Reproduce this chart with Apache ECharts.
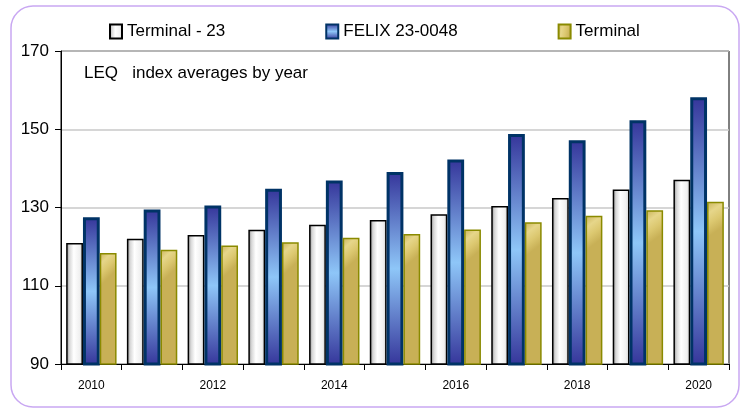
<!DOCTYPE html>
<html>
<head>
<meta charset="utf-8">
<script src="https://cdn.jsdelivr.net/npm/echarts@6/dist/echarts.min.js"></script>
<style>
  html, body { margin: 0; padding: 0; background: #fff; }
  #chart { width: 742px; height: 409px; }
</style>
</head>
<body>
<div id="chart"></div>
<script>
// years on the x axis
var years = ['2010', '2011', '2012', '2013', '2014', '2015', '2016', '2017', '2018', '2019', '2020'];
// LEQ index averages
var terminal23 = [120.9, 122.0, 123.0, 124.3, 125.6, 126.8, 128.3, 130.4, 132.4, 134.6, 137.1];
var felix = [127.5, 129.5, 130.5, 134.8, 136.9, 139.1, 142.3, 148.8, 147.2, 152.3, 158.2];
var terminal = [118.4, 119.2, 120.3, 121.1, 122.3, 123.2, 124.4, 126.2, 127.9, 129.3, 131.5];
var seriesNames = ['Terminal - 23', 'FELIX 23-0048', 'Terminal'];

var FONT = '"Liberation Sans Narrow", "Liberation Sans", Arial, sans-serif';
var G = echarts.graphic.LinearGradient;

var myChart = echarts.init(document.getElementById('chart'));

var option = {
  animation: false,
  textStyle: { fontFamily: FONT },
  grid: {
    left: 61, right: 13, top: 51, bottom: 45,
    show: true, borderColor: '#000', borderWidth: 1
  },
  graphic: [
    {
      type: 'rect',
      shape: { x: 11, y: 6, width: 728, height: 401, r: 22 },
      style: { fill: 'none', stroke: '#c9a8f2', lineWidth: 1.5 },
      z: -1
    },
    {
      type: 'text',
      left: 84, top: 65,
      style: { text: 'LEQ   index averages by year', font: '17px ' + FONT, fill: '#000' }
    }
  ],
  legend: {
    top: 18, left: 104,
    itemGap: 100,
    itemWidth: 12, itemHeight: 14,
    icon: 'rect',
    textStyle: { fontSize: 17, color: '#000', fontFamily: FONT },
    data: seriesNames
  },
  xAxis: {
    type: 'category',
    data: years,
    axisLine: { lineStyle: { color: '#000', width: 1 } },
    axisTick: { show: true, interval: 0, length: 6, lineStyle: { color: '#000' } },
    axisLabel: { interval: 1, color: '#000', fontSize: 12, margin: 16, fontFamily: FONT }
  },
  yAxis: {
    type: 'value',
    min: 90, max: 170, interval: 20,
    axisLine: { show: true, lineStyle: { color: '#000', width: 1 } },
    axisTick: { show: true, length: 6, lineStyle: { color: '#000' } },
    axisLabel: { color: '#000', fontSize: 17, margin: 12, fontFamily: FONT },
    splitLine: { lineStyle: { color: '#c8c8c8', width: 1.5 } }
  },
  series: [
    {
      name: seriesNames[0],
      type: 'bar',
      data: terminal23,
      barGap: '0%',
      barCategoryGap: '17%',
      itemStyle: {
        color: new G(0, 0, 1, 0, [
          { offset: 0, color: '#8c8c8c' },
          { offset: 0.2, color: '#d8d8d8' },
          { offset: 0.45, color: '#ffffff' },
          { offset: 0.8, color: '#f0f0f0' },
          { offset: 1, color: '#c8c8c8' }
        ]),
        borderColor: '#000',
        borderWidth: 1.5
      }
    },
    {
      name: seriesNames[1],
      type: 'bar',
      data: felix,
      itemStyle: {
        color: new G(0, 0, 0, 1, [
          { offset: 0, color: '#35359a' },
          { offset: 0.5, color: '#8ec6f8' },
          { offset: 1, color: '#35359a' }
        ]),
        borderColor: '#003366',
        borderWidth: 3
      }
    },
    {
      name: seriesNames[2],
      type: 'bar',
      data: terminal,
      itemStyle: {
        color: new G(0, 0, 1, 0.15, [
          { offset: 0, color: '#c9b35a' },
          { offset: 0.35, color: '#e6d68a' },
          { offset: 0.65, color: '#dcc870' },
          { offset: 1, color: '#c8b056' }
        ]),
        borderColor: '#8a8a00',
        borderWidth: 1.5
      }
    }
  ]
};

myChart.setOption(option);
</script>
</body>
</html>
